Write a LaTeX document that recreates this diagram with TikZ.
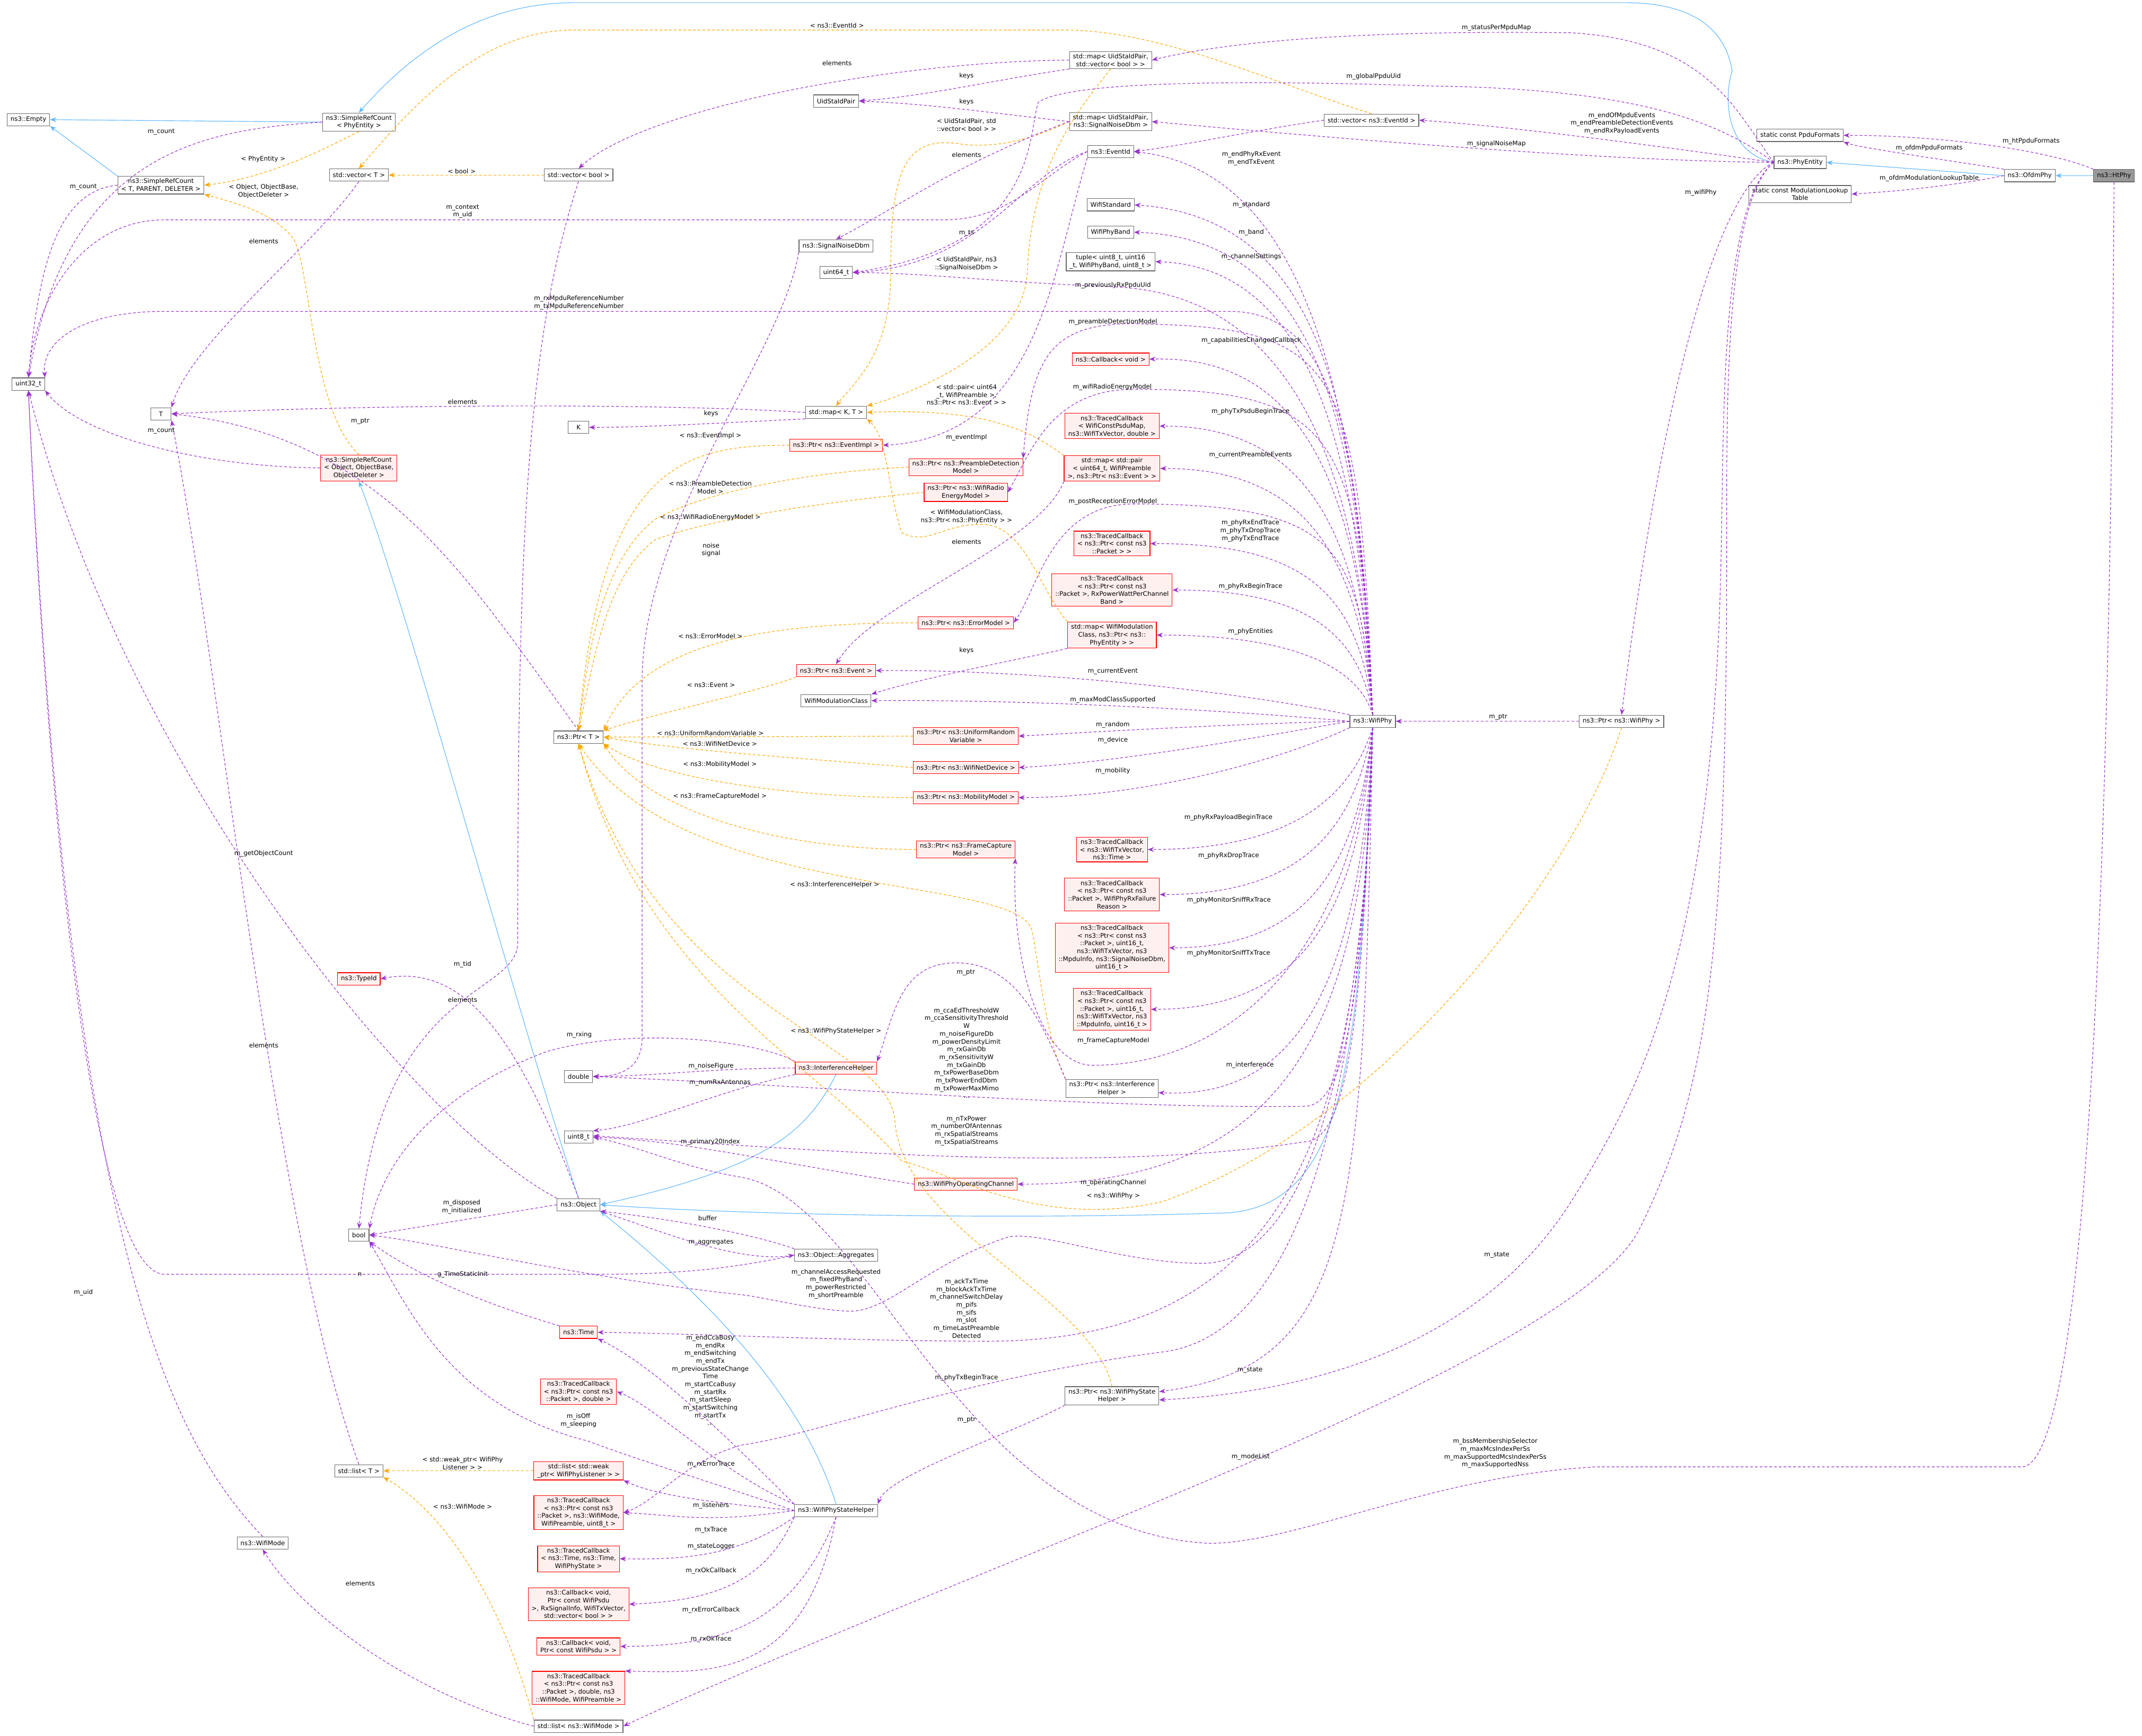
\documentclass[tikz,border=0pt]{standalone}
\usepackage{fontspec}
\setmainfont{DejaVu Sans}
\usetikzlibrary{arrows.meta}
\definecolor{cpur}{HTML}{9A32CD}
\definecolor{corg}{HTML}{FFA500}
\definecolor{cblu}{HTML}{63B8FF}
\definecolor{cred}{HTML}{FF0000}
\definecolor{credf}{HTML}{FFF0F0}
\definecolor{cgry}{HTML}{666666}
\tikzset{
 box/.style={draw=cgry,fill=white,line width=0.45pt,inner xsep=2.5pt,inner ysep=1.6pt,align=center,font=\fontsize{4.6}{5.7}\selectfont,minimum height=9pt},
 rbox/.style={box,draw=cred,fill=credf},
 gbox/.style={box,fill=black!40},
 lbl/.style={inner sep=0pt,align=center,font=\fontsize{4.6}{5.7}\selectfont},
 mem/.style={draw=cpur,line width=0.45pt,dash pattern=on 2pt off 1.5pt,-{Stealth[length=4.5pt,width=3.5pt]}},
 tpl/.style={draw=corg,line width=0.45pt,dash pattern=on 2pt off 1.5pt,-{Stealth[length=4.5pt,width=3.5pt]}},
 inh/.style={draw=cblu,line width=0.45pt,-{Stealth[length=4.5pt,width=3.5pt]}},
}
\begin{document}
\begin{tikzpicture}[x=1pt,y=1pt]
\useasboundingbox (0,0) rectangle (1568,-1271);
% ---------- nodes ----------
\node[gbox] (htphy) at (1547.5,-128.6) {ns3::HtPhy};
\node[box] (ofdm) at (1485.8,-128.6) {ns3::OfdmPhy};
\node[box] (phyentity) at (1317.7,-118.9) {ns3::PhyEntity};
\node[box] (ppdufmt) at (1317.7,-99.1) {static const PpduFormats};
\node[box] (modlut) at (1317.7,-142.1) {static const ModulationLookup\\Table};
\node[box] (wifiphy) at (1004.8,-528.1) {ns3::WifiPhy};
\node[box] (ptrwifiphy) at (1187,-528.1) {ns3::Ptr< ns3::WifiPhy >};
\node[box] (mapuidbool) at (813,-44) {std::map< UidStaIdPair,\\std::vector< bool > >};
\node[box] (uidsta) at (612,-74) {UidStaIdPair};
\node[box] (mapuidsnr) at (813,-89) {std::map< UidStaIdPair,\\ns3::SignalNoiseDbm >};
\node[box] (vecevent) at (1004,-88) {std::vector< ns3::EventId >};
\node[box] (eventid) at (813,-111) {ns3::EventId};
\node[box] (wifistd) at (813,-150) {WifiStandard};
\node[box] (wifiband) at (813,-170) {WifiPhyBand};
\node[box] (tuple) at (813,-191.6) {tuple< uint8\_t, uint16\\\_t, WifiPhyBand, uint8\_t >};
\node[box] (snr) at (612,-180) {ns3::SignalNoiseDbm};
\node[box] (uint64) at (612,-199.5) {uint64\_t};
\node[rbox] (cbvoid) at (813,-263) {ns3::Callback< void >};
\node[box] (mapKT) at (612,-302) {std::map< K, T >};
\node[rbox] (ptrEventImpl) at (612,-326) {ns3::Ptr< ns3::EventImpl >};
\node[rbox] (ptrPreamble) at (707,-342) {ns3::Ptr< ns3::PreambleDetection\\Model >};
\node[rbox] (ptrRadio) at (707,-360.5) {ns3::Ptr< ns3::WifiRadio\\EnergyModel >};
\node[rbox] (tcPsdu) at (814,-312) {ns3::TracedCallback\\< WifiConstPsduMap,\\ns3::WifiTxVector, double >};
\node[rbox] (mapPreamble) at (814,-343) {std::map< std::pair\\< uint64\_t, WifiPreamble\\>, ns3::Ptr< ns3::Event > >};
\node[rbox] (tcPacket) at (814,-398) {ns3::TracedCallback\\< ns3::Ptr< const ns3\\::Packet > >};
\node[rbox] (tcRxPower) at (814,-432) {ns3::TracedCallback\\< ns3::Ptr< const ns3\\::Packet >, RxPowerWattPerChannel\\Band >};
\node[rbox] (ptrErrorModel) at (707,-456) {ns3::Ptr< ns3::ErrorModel >};
\node[rbox] (mapModClass) at (814,-465) {std::map< WifiModulation\\Class, ns3::Ptr< ns3::\\PhyEntity > >};
\node[rbox] (ptrEvent) at (612,-491) {ns3::Ptr< ns3::Event >};
\node[box] (modclass) at (612,-513) {WifiModulationClass};
\node[rbox] (ptrRandom) at (707,-539) {ns3::Ptr< ns3::UniformRandom\\Variable >};
\node[rbox] (ptrDevice) at (707,-562) {ns3::Ptr< ns3::WifiNetDevice >};
\node[rbox] (ptrMobility) at (707,-584) {ns3::Ptr< ns3::MobilityModel >};
\node[rbox] (ptrFrameCap) at (707,-622) {ns3::Ptr< ns3::FrameCapture\\Model >};
\node[rbox] (tcTime) at (814,-622) {ns3::TracedCallback\\< ns3::WifiTxVector,\\ns3::Time >};
\node[rbox] (tcFailure) at (814,-655) {ns3::TracedCallback\\< ns3::Ptr< const ns3\\::Packet >, WifiPhyRxFailure\\Reason >};
\node[rbox] (tcSniffRx) at (814,-694) {ns3::TracedCallback\\< ns3::Ptr< const ns3\\::Packet >, uint16\_t,\\ns3::WifiTxVector, ns3\\::MpduInfo, ns3::SignalNoiseDbm,\\uint16\_t >};
\node[rbox] (tcSniffTx) at (814,-739) {ns3::TracedCallback\\< ns3::Ptr< const ns3\\::Packet >, uint16\_t,\\ns3::WifiTxVector, ns3\\::MpduInfo, uint16\_t >};
\node[rbox] (interf) at (612,-782) {ns3::InterferenceHelper};
\node[box] (ptrInterf) at (814,-797) {ns3::Ptr< ns3::Interference\\Helper >};
\node[rbox] (opchan) at (707,-867) {ns3::WifiPhyOperatingChannel};
\node[box] (aggregates) at (612,-919) {ns3::Object::Aggregates};
\node[box] (ptrState) at (814,-1022) {ns3::Ptr< ns3::WifiPhyState\\Helper >};
\node[box] (stateHelper) at (612,-1106) {ns3::WifiPhyStateHelper};
\node[box] (empty) at (20.8,-87.6) {ns3::Empty};
\node[box] (simplerefphy) at (262.7,-89.4) {ns3::SimpleRefCount\\< PhyEntity >};
\node[box] (simpleref3) at (117.8,-135.6) {ns3::SimpleRefCount\\< T, PARENT, DELETER >};
\node[box] (vecT) at (262.7,-128.2) {std::vector< T >};
\node[box] (vecbool) at (423.5,-128.2) {std::vector< bool >};
\node[box] (uint32) at (20.8,-281.2) {uint32\_t};
\node[box,minimum width=15pt] (T) at (117.8,-303) {T};
\node[box,minimum width=15pt] (K) at (423.5,-312.9) {K};
\node[rbox] (simplerefObj) at (262.7,-342.6) {ns3::SimpleRefCount\\< Object, ObjectBase,\\ObjectDeleter >};
\node[box] (ptrT) at (423.5,-539.7) {ns3::Ptr< T >};
\node[rbox] (typeid) at (262.7,-716.7) {ns3::TypeId};
\node[box] (double) at (423.5,-788.2) {double};
\node[box] (uint8) at (423.5,-832.6) {uint8\_t};
\node[box] (object) at (423.5,-882.1) {ns3::Object};
\node[box] (bool) at (262.7,-904.3) {bool};
\node[rbox] (time) at (423.5,-975.5) {ns3::Time};
\node[rbox] (tcPktDouble) at (423.5,-1018.9) {ns3::TracedCallback\\< ns3::Ptr< const ns3\\::Packet >, double >};
\node[box] (listT) at (262.7,-1076.9) {std::list< T >};
\node[rbox] (listListener) at (423.5,-1076.9) {std::list< std::weak\\\_ptr< WifiPhyListener > >};
\node[rbox] (tcMode) at (423.5,-1107.5) {ns3::TracedCallback\\< ns3::Ptr< const ns3\\::Packet >, ns3::WifiMode,\\WifiPreamble, uint8\_t >};
\node[box] (wifimode) at (192.3,-1129.7) {ns3::WifiMode};
\node[rbox] (tcState) at (423.5,-1141.3) {ns3::TracedCallback\\< ns3::Time, ns3::Time,\\WifiPhyState >};
\node[rbox] (cbRxOk) at (423.5,-1174.6) {ns3::Callback< void,\\Ptr< const WifiPsdu\\>, RxSignalInfo, WifiTxVector,\\std::vector< bool > >};
\node[rbox] (cbRxErr) at (423.5,-1205.5) {ns3::Callback< void,\\Ptr< const WifiPsdu > >};
\node[rbox] (tcRxOk) at (423.5,-1235.9) {ns3::TracedCallback\\< ns3::Ptr< const ns3\\::Packet >, double, ns3\\::WifiMode, WifiPreamble >};
\node[box] (listMode) at (423.5,-1263.9) {std::list< ns3::WifiMode >};
% ---------- inheritance ----------
\draw[inh] (htphy) -- (ofdm);
\draw[inh] (ofdm.west) -- (phyentity.east);
\draw[inh] (phyentity.west) .. controls (1262,-112) and (1262,-70) .. (1268,-52) .. controls (1262,-15) and (1230,-2) .. (1190,-2) -- (420,-2) .. controls (350,-2) and (300,-40) .. (simplerefphy.north);
\draw[inh] (simplerefphy.west) -- (empty.east);
\draw[inh] (simpleref3.north west) -- (empty.south east);
\draw[inh] (object.north) .. controls (372,-720) and (300,-450) .. (simplerefObj.south);
\draw[inh] (interf.south) .. controls (590,-830) and (560,-855) .. (object.east);
\draw[inh] (stateHelper.north) .. controls (590,-1030) and (530,-960) .. (object.south east);
\draw[inh] (wifiphy.south) .. controls (995,-760) and (990,-880) .. (900,-888) .. controls (750,-893) and (550,-890) .. (object.east);
% ---------- templates ----------
\draw[tpl] (simplerefphy.south) .. controls (245,-105) and (200,-130) .. (simpleref3.east);
\draw[tpl] (simplerefObj.north) .. controls (228,-300) and (228,-200) .. (215,-175) .. controls (200,-155) and (170,-148) .. (simpleref3.south east);
\draw[tpl] (vecbool.west) -- (vecT.east);
\draw[tpl] (vecevent.north) .. controls (930,-60) and (850,-22) .. (779,-22) -- (420,-22) .. controls (350,-22) and (300,-80) .. (vecT.north);
\draw[tpl] (mapuidbool.south) .. controls (790,-80) and (755,-120) .. (752,-200) .. controls (748,-260) and (660,-290) .. (mapKT.north east);
\draw[tpl] (mapuidsnr.west) .. controls (760,-100) and (730,-110) .. (700,-105) .. controls (660,-100) and (652,-130) .. (652,-200) .. controls (652,-260) and (625,-280) .. (mapKT.north);
\draw[tpl] (mapPreamble.north west) .. controls (760,-320) and (730,-298) .. (mapKT.east);
\draw[tpl] (mapModClass.north west) .. controls (760,-430) and (750,-385) .. (720,-384) .. controls (690,-383) and (680,-400) .. (660,-390) .. controls (650,-360) and (650,-320) .. (mapKT.south east);
\draw[tpl] (ptrEventImpl.west) .. controls (500,-326) and (440,-340) .. (ptrT.north);
\draw[tpl] (ptrPreamble.west) .. controls (600,-345) and (520,-358) .. (480,-380) .. controls (440,-410) and (430,-480) .. (ptrT.north);
\draw[tpl] (ptrRadio.west) .. controls (600,-368) and (520,-380) .. (480,-395) .. controls (445,-420) and (435,-480) .. (ptrT.north);
\draw[tpl] (ptrErrorModel.west) .. controls (560,-456) and (470,-470) .. (ptrT.north east);
\draw[tpl] (ptrEvent.south west) .. controls (560,-505) and (470,-525) .. (ptrT.north east);
\draw[tpl] (ptrRandom.west) -- (ptrT.east);
\draw[tpl] (ptrDevice.west) .. controls (600,-556) and (500,-550) .. (ptrT.east);
\draw[tpl] (ptrMobility.west) .. controls (580,-584) and (480,-570) .. (ptrT.south east);
\draw[tpl] (ptrFrameCap.west) .. controls (560,-622) and (470,-590) .. (ptrT.south east);
\draw[tpl] (ptrInterf.north west) .. controls (765,-760) and (760,-700) .. (755,-680) .. controls (740,-640) and (500,-660) .. (ptrT.south);
\draw[tpl] (ptrState.north) .. controls (800,-950) and (660,-900) .. (655,-820) .. controls (650,-760) and (480,-740) .. (ptrT.south);
\draw[tpl] (ptrwifiphy.south) .. controls (1150,-650) and (1000,-830) .. (850,-880) .. controls (760,-900) and (700,-860) .. (660,-850) .. controls (600,-780) and (470,-720) .. (ptrT.south);
\draw[tpl] (listListener.west) -- (listT.east);
\draw[tpl] (listMode.north west) .. controls (370,-1180) and (330,-1110) .. (listT.south east);
% ---------- members ----------
\draw[mem] (htphy.north west) .. controls (1500,-110) and (1420,-99) .. (ppdufmt.east);
\draw[mem] (ofdm.north west) .. controls (1430,-118) and (1360,-108) .. (ppdufmt.south east);
\draw[mem] (ofdm.west) .. controls (1430,-136) and (1390,-140) .. (modlut.east);
\draw[mem] (phyentity.west) .. controls (1270,-80) and (1250,-30) .. (1150,-24) .. controls (1000,-22) and (900,-30) .. (mapuidbool.east);
\draw[mem] (phyentity.west) .. controls (1260,-90) and (1200,-65) .. (1048,-63) .. controls (900,-58) and (780,-60) .. (760,-75) .. controls (752,-100) and (760,-180) .. (uint64.east);
\draw[mem] (phyentity.west) .. controls (1200,-105) and (1100,-92) .. (vecevent.east);
\draw[mem] (phyentity.west) .. controls (1200,-118) and (1050,-108) .. (mapuidsnr.east);
\draw[mem] (phyentity.west) .. controls (1255,-140) and (1215,-300) .. (ptrwifiphy.north);
\draw[mem] (phyentity.west) .. controls (1262,-150) and (1264,-300) .. (1264,-400) .. controls (1264,-700) and (1250,-800) .. (1200,-900) .. controls (1150,-1000) and (700,-1150) .. (listMode.east);
\draw[mem] (phyentity.west) .. controls (1260,-150) and (1262,-300) .. (1260,-400) .. controls (1255,-700) and (1200,-800) .. (1150,-880) .. controls (1080,-990) and (950,-1020) .. ([yshift=-3pt]ptrState.east);
\draw[mem] (htphy.south) .. controls (1545,-600) and (1530,-1074) .. (1480,-1074) -- (1169,-1074) .. controls (1050,-1080) and (950,-1130) .. (885,-1130) .. controls (700,-1120) and (640,-880) .. (543,-862) .. controls (500,-855) and (470,-840) .. (uint8.east);
\draw[mem] (mapuidbool.west) .. controls (650,-45) and (470,-80) .. (vecbool.north);
\draw[mem] (mapuidbool.south west) .. controls (720,-60) and (680,-70) .. (uidsta.east);
\draw[mem] (mapuidsnr.west) .. controls (720,-82) and (680,-76) .. (uidsta.east);
\draw[mem] (mapuidsnr.west) .. controls (700,-120) and (660,-150) .. (snr.north);
\draw[mem] (vecevent.west) .. controls (920,-95) and (870,-106) .. (eventid.east);
\draw[mem] (eventid.west) .. controls (750,-125) and (720,-195) .. (uint64.east);
\draw[mem] (eventid.south west) .. controls (770,-200) and (760,-320) .. (ptrEventImpl.east);
\draw[mem] (eventid.west) .. controls (760,-130) and (740,-161) .. (690,-161) -- (120,-161) .. controls (60,-161) and (25,-220) .. (uint32.north);
\draw[mem] (snr.south west) .. controls (572,-260) and (470,-380) .. (470,-500) -- (470,-760) .. controls (470,-785) and (450,-788) .. (double.east);
\draw[mem] (mapKT.west) .. controls (500,-296) and (300,-295) .. (T.east);
\draw[mem] (mapKT.south west) .. controls (520,-310) and (470,-313) .. (K.east);
\draw[mem] (vecT.south) .. controls (230,-180) and (140,-250) .. (T.north east);
\draw[mem] (listT.north) .. controls (200,-900) and (160,-480) .. (T.south east);
\draw[mem] (ptrT.north) .. controls (340,-420) and (280,-320) .. (T.east);
\draw[mem] (simpleref3.west) .. controls (40,-140) and (28,-200) .. (uint32.north);
\draw[mem] (simplerefphy.west) .. controls (150,-95) and (50,-110) .. (uint32.north);
\draw[mem] (simplerefObj.west) .. controls (150,-342) and (60,-320) .. (uint32.south east);
\draw[mem] (vecbool.south) .. controls (385,-250) and (379,-400) .. (379,-690) .. controls (379,-730) and (280,-720) .. (bool.north);
\draw[mem] (object.north west) .. controls (300,-820) and (90,-560) .. (uint32.south);
\draw[mem] (object.north) .. controls (380,-760) and (340,-705) .. (typeid.east);
\draw[mem] (object.west) -- (bool.east);
\draw[mem] (object.south east) .. controls (480,-900) and (540,-925) .. (aggregates.west);
\draw[mem] (aggregates.north west) .. controls (540,-900) and (470,-890) .. (object.south east);
\draw[mem] (aggregates.west) .. controls (540,-928) and (500,-933) .. (440,-933) -- (120,-933) .. controls (60,-930) and (30,-500) .. (uint32.south);
\draw[mem] (time.north west) .. controls (340,-950) and (300,-930) .. (bool.south east);
\draw[mem] (wifimode.north) .. controls (120,-1050) and (50,-900) .. (uint32.south);
\draw[mem] (listMode.west) .. controls (300,-1240) and (220,-1180) .. (wifimode.south);
\draw[mem] (ptrwifiphy.west) -- (wifiphy.east);
\draw[mem] (ptrInterf.north west) .. controls (760,-740) and (740,-705) .. (700,-705) .. controls (660,-705) and (655,-740) .. (interf.north east);
\draw[mem] (interf.north west) .. controls (560,-764) and (470,-750) .. (400,-770) .. controls (320,-800) and (280,-850) .. (bool.north east);
\draw[mem] (interf.west) .. controls (520,-782) and (480,-788) .. (double.east);
\draw[mem] (interf.south west) .. controls (520,-800) and (470,-825) .. (uint8.north east);
\draw[mem] (opchan.west) .. controls (560,-850) and (500,-835) .. (uint8.east);
\draw[mem] (ptrState.south west) .. controls (740,-1050) and (650,-1080) .. (stateHelper.north east);
\draw[mem] (stateHelper.north west) .. controls (540,-1060) and (480,-1000) .. (time.south east);
\draw[mem] (stateHelper.west) .. controls (520,-1085) and (470,-1070) .. (430,-1055) .. controls (330,-1030) and (300,-960) .. (bool.south east);
\draw[mem] (stateHelper.north west) .. controls (530,-1080) and (480,-1030) .. (tcPktDouble.east);
\draw[mem] (stateHelper.west) .. controls (520,-1100) and (480,-1095) .. (listListener.south east);
\draw[mem] (stateHelper.west) .. controls (520,-1115) and (500,-1110) .. (tcMode.east);
\draw[mem] (stateHelper.south west) .. controls (540,-1140) and (500,-1142) .. (tcState.east);
\draw[mem] (stateHelper.south west) .. controls (560,-1160) and (520,-1172) .. (cbRxOk.east);
\draw[mem] (stateHelper.south) .. controls (580,-1190) and (530,-1205) .. (cbRxErr.east);
\draw[mem] (stateHelper.south) .. controls (590,-1230) and (520,-1225) .. (tcRxOk.north east);
\draw[mem] (mapPreamble.south west) .. controls (760,-400) and (640,-440) .. (ptrEvent.north);
\draw[mem] (mapModClass.south west) .. controls (760,-480) and (680,-495) .. (modclass.north east);
% WifiPhy members upward
\draw[mem] (wifiphy.north) .. controls (995,-300) and (960,-125) .. (eventid.east);
\draw[mem] (wifiphy.north) .. controls (995,-300) and (970,-160) .. (wifistd.east);
\draw[mem] (wifiphy.north) .. controls (995,-320) and (970,-175) .. (wifiband.east);
\draw[mem] (wifiphy.north) .. controls (995,-330) and (960,-195) .. (tuple.east);
\draw[mem] (wifiphy.north) .. controls (995,-330) and (940,-215) .. (815,-210) .. controls (720,-206) and (680,-200) .. (uint64.east);
\draw[mem] (wifiphy.north) .. controls (995,-260) and (980,-240) .. (830,-237) .. controls (770,-237) and (755,-260) .. (ptrPreamble.north east);
\draw[mem] (wifiphy.north) .. controls (995,-330) and (980,-228) .. (900,-228) -- (120,-228) .. controls (60,-228) and (30,-250) .. (uint32.north east);
\draw[mem] (wifiphy.north) .. controls (995,-350) and (950,-260) .. (cbvoid.east);
\draw[mem] (wifiphy.north) .. controls (995,-320) and (980,-285) .. (830,-285) .. controls (770,-285) and (755,-330) .. (ptrRadio.east);
\draw[mem] (wifiphy.north) .. controls (995,-380) and (950,-312) .. (tcPsdu.east);
\draw[mem] (wifiphy.north) .. controls (995,-400) and (950,-343) .. (mapPreamble.east);
\draw[mem] (wifiphy.north) .. controls (995,-400) and (980,-369) .. (830,-369) .. controls (770,-369) and (760,-430) .. (ptrErrorModel.east);
\draw[mem] (wifiphy.north) .. controls (995,-430) and (950,-398) .. (tcPacket.east);
\draw[mem] (wifiphy.north) .. controls (995,-460) and (950,-432) .. (tcRxPower.east);
\draw[mem] (wifiphy.north) .. controls (995,-490) and (950,-465) .. (mapModClass.east);
\draw[mem] (wifiphy.north west) .. controls (900,-505) and (750,-490) .. (ptrEvent.east);
\draw[mem] (wifiphy.west) .. controls (900,-520) and (750,-512) .. (modclass.east);
\draw[mem] (wifiphy.west) .. controls (900,-530) and (800,-536) .. (ptrRandom.east);
\draw[mem] (wifiphy.west) .. controls (920,-540) and (820,-558) .. (ptrDevice.east);
\draw[mem] (wifiphy.south west) .. controls (930,-560) and (830,-584) .. (ptrMobility.east);
% WifiPhy members downward
\draw[mem] (wifiphy.south) .. controls (990,-580) and (950,-622) .. (tcTime.east);
\draw[mem] (wifiphy.south) .. controls (992,-600) and (960,-655) .. (tcFailure.east);
\draw[mem] (wifiphy.south) .. controls (994,-630) and (960,-694) .. (tcSniffRx.east);
\draw[mem] (wifiphy.south) .. controls (995,-660) and (960,-739) .. (tcSniffTx.east);
\draw[mem] (wifiphy.south) .. controls (990,-700) and (900,-780) .. (800,-780) .. controls (760,-780) and (740,-700) .. (ptrFrameCap.south east);
\draw[mem] (wifiphy.south) .. controls (996,-720) and (950,-805) .. ([yshift=-3pt]ptrInterf.east);
\draw[mem] (wifiphy.south) .. controls (998,-700) and (990,-810) .. (955,-810) .. controls (800,-812) and (600,-795) .. (double.east);
\draw[mem] (wifiphy.south) .. controls (998,-720) and (990,-836) .. (955,-836) .. controls (800,-860) and (600,-842) .. ([yshift=1pt]uint8.east);
\draw[mem] (wifiphy.south) .. controls (998,-740) and (950,-868) .. (opchan.east);
\draw[mem] (wifiphy.south) .. controls (998,-800) and (950,-925) .. (880,-925) .. controls (820,-925) and (760,-900) .. (737,-906) .. controls (680,-925) and (650,-960) .. (623,-960) .. controls (600,-960) and (560,-950) .. (543,-948) .. controls (420,-935) and (320,-910) .. (bool.east);
\draw[mem] (wifiphy.south) .. controls (998,-820) and (950,-982) .. (723,-982) .. controls (620,-982) and (500,-976) .. (time.east);
\draw[mem] (wifiphy.south) .. controls (998,-840) and (940,-980) .. (850,-990) .. controls (700,-1010) and (600,-1050) .. (543,-1058) .. controls (500,-1070) and (480,-1100) .. (tcMode.east);
\draw[mem] (wifiphy.south) .. controls (998,-900) and (990,-1000) .. ([yshift=3pt]ptrState.east);
% ---------- labels ----------
\node[lbl] (l1) at (1486.8,-103.4) {m\_htPpduFormats};
\node[lbl] (l2) at (1412.2,-108.3) {m\_ofdmPpduFormats};
\node[lbl] (l3) at (1412.2,-130.5) {m\_ofdmModulationLookupTable};
\node[lbl] (l4) at (1095.4,-20.4) {m\_statusPerMpduMap};
\node[lbl] (l5) at (1005.5,-56) {m\_globalPpduUid};
\node[lbl] (l6) at (1187.2,-90.3) {m\_endOfMpduEvents\\m\_endPreambleDetectionEvents\\m\_endRxPayloadEvents};
\node[lbl] (l7) at (1095.4,-105.5) {m\_signalNoiseMap};
\node[lbl] (l8) at (1245,-141.2) {m\_wifiPhy};
\node[lbl] (l9) at (612.7,-18.7) {< ns3::EventId >};
\node[lbl] (l10) at (612.7,-46.4) {elements};
\node[lbl] (l11) at (707.5,-55.4) {keys};
\node[lbl] (l12) at (707.5,-74.5) {keys};
\node[lbl] (l13) at (707.5,-91.5) {< UidStaIdPair, std\\::vector< bool > >};
\node[lbl] (l14) at (707.5,-113.5) {elements};
\node[lbl] (l15) at (707.5,-170.6) {m\_ts};
\node[lbl] (l16) at (707.5,-193.2) {< UidStaIdPair, ns3\\::SignalNoiseDbm >};
\node[lbl] (l17) at (916,-116) {m\_endPhyRxEvent\\m\_endTxEvent};
\node[lbl] (l18) at (916,-150) {m\_standard};
\node[lbl] (l19) at (916,-170) {m\_band};
\node[lbl] (l20) at (916,-188) {m\_channelSettings};
\node[lbl] (l21) at (814.7,-208.9) {m\_previouslyRxPpduUid};
\node[lbl] (l22) at (814.7,-235.8) {m\_preambleDetectionModel};
\node[lbl] (l23) at (916,-249.5) {m\_capabilitiesChangedCallback};
\node[lbl] (l24) at (118,-96.5) {m\_count};
\node[lbl] (l25) at (192.7,-116.6) {< PhyEntity >};
\node[lbl] (l26) at (61,-137) {m\_count};
\node[lbl] (l27) at (193,-140) {< Object, ObjectBase,\\ObjectDeleter >};
\node[lbl] (l28) at (338,-125.5) {< bool >};
\node[lbl] (l29) at (338.6,-154.7) {m\_context\\m\_uid};
\node[lbl] (l30) at (193,-176.7) {elements};
\node[lbl] (l31) at (423.8,-221.5) {m\_rxMpduReferenceNumber\\m\_txMpduReferenceNumber};
\node[lbl] (l32) at (338.6,-294.3) {elements};
\node[lbl] (l33) at (520.5,-303) {keys};
\node[lbl] (l34) at (263.7,-308.4) {m\_ptr};
\node[lbl] (l35) at (118,-315.3) {m\_count};
\node[lbl] (l36) at (520,-319.3) {< ns3::EventImpl >};
\node[lbl] (l37) at (520,-357) {< ns3::PreambleDetection\\Model >};
\node[lbl] (l38) at (520,-378.7) {< ns3::WifiRadioEnergyModel >};
\node[lbl] (l39) at (707.5,-289) {< std::pair< uint64\\\_t, WifiPreamble >,\\ns3::Ptr< ns3::Event > >};
\node[lbl] (l40) at (814.3,-283.5) {m\_wifiRadioEnergyModel};
\node[lbl] (l41) at (915.4,-301.2) {m\_phyTxPsduBeginTrace};
\node[lbl] (l42) at (707.5,-320.2) {m\_eventImpl};
\node[lbl] (l43) at (915.4,-333.2) {m\_currentPreambleEvents};
\node[lbl] (l44) at (814.6,-367.3) {m\_postReceptionErrorModel};
\node[lbl] (l45) at (707.5,-378.4) {< WifiModulationClass,\\ns3::Ptr< ns3::PhyEntity > >};
\node[lbl] (l46) at (707.5,-396.8) {elements};
\node[lbl] (l47) at (915.4,-388.6) {m\_phyRxEndTrace\\m\_phyTxDropTrace\\m\_phyTxEndTrace};
\node[lbl] (l48) at (915.4,-429.5) {m\_phyRxBeginTrace};
\node[lbl] (l49) at (915.4,-462.3) {m\_phyEntities};
\node[lbl] (l50) at (707.5,-476.5) {keys};
\node[lbl] (l51) at (814.6,-491.7) {m\_currentEvent};
\node[lbl] (l52) at (814.6,-512.5) {m\_maxModClassSupported};
\node[lbl] (l53) at (814.6,-530.9) {m\_random};
\node[lbl] (l54) at (814.6,-542) {m\_device};
\node[lbl] (l55) at (814.6,-564.5) {m\_mobility};
\node[lbl] (l56) at (520.5,-402.6) {noise\\signal};
\node[lbl] (l57) at (520,-465.7) {< ns3::ErrorModel >};
\node[lbl] (l58) at (520.5,-501.5) {< ns3::Event >};
\node[lbl] (l59) at (520,-536.8) {< ns3::UniformRandomVariable >};
\node[lbl] (l60) at (527,-544.5) {< ns3::WifiNetDevice >};
\node[lbl] (l61) at (527,-559.6) {< ns3::MobilityModel >};
\node[lbl] (l62) at (527,-583) {< ns3::FrameCaptureModel >};
\node[lbl] (l63) at (899.2,-598.6) {m\_phyRxPayloadBeginTrace};
\node[lbl] (l64) at (899.4,-626.7) {m\_phyRxDropTrace};
\node[lbl] (l65) at (899.6,-659.3) {m\_phyMonitorSniffRxTrace};
\node[lbl] (l66) at (899.4,-698.1) {m\_phyMonitorSniffTxTrace};
\node[lbl] (l67) at (1096.7,-525.2) {m\_ptr};
\node[lbl] (l68) at (193,-624.9) {m\_getObjectCount};
\node[lbl] (l69) at (611,-648) {< ns3::InterferenceHelper >};
\node[lbl] (l70) at (338.6,-706.1) {m\_tid};
\node[lbl] (l71) at (338.6,-732.1) {elements};
\node[lbl] (l72) at (707,-712) {m\_ptr};
\node[lbl] (l73) at (424,-757.9) {m\_rxing};
\node[lbl] (l74) at (193,-765.3) {elements};
\node[lbl] (l75) at (612,-755) {< ns3::WifiPhyStateHelper >};
\node[lbl] (l76) at (707.5,-771) {m\_ccaEdThresholdW\\m\_ccaSensitivityThreshold\\W\\m\_noiseFigureDb\\m\_powerDensityLimit\\m\_rxGainDb\\m\_rxSensitivityW\\m\_txGainDb\\m\_txPowerBaseDbm\\m\_txPowerEndDbm\\m\_txPowerMaxMimo\\...};
\node[lbl] (l77) at (815,-762) {m\_frameCaptureModel};
\node[lbl] (l78) at (915,-780) {m\_interference};
\node[lbl] (l79) at (520.5,-780.8) {m\_noiseFigure};
\node[lbl] (l80) at (527,-792.7) {m\_numRxAntennas};
\node[lbl] (l81) at (707.5,-828) {m\_nTxPower\\m\_numberOfAntennas\\m\_rxSpatialStreams\\m\_txSpatialStreams};
\node[lbl] (l82) at (520,-836.2) {m\_primary20Index};
\node[lbl] (l83) at (815,-866) {m\_operatingChannel};
\node[lbl] (l84) at (815,-875.5) {< ns3::WifiPhy >};
\node[lbl] (l85) at (338,-883.7) {m\_disposed\\m\_initialized};
\node[lbl] (l86) at (518,-892) {buffer};
\node[lbl] (l87) at (520.5,-909.8) {m\_aggregates};
\node[lbl] (l88) at (612,-940) {m\_channelAccessRequested\\m\_fixedPhyBand\\m\_powerRestricted\\m\_shortPreamble};
\node[lbl] (l89) at (707.5,-958) {m\_ackTxTime\\m\_blockAckTxTime\\m\_channelSwitchDelay\\m\_pifs\\m\_sifs\\m\_slot\\m\_timeLastPreamble\\Detected};
\node[lbl] (l90) at (263.4,-933.2) {n};
\node[lbl] (l91) at (338.6,-933.2) {g\_TimeStaticInit};
\node[lbl] (l92) at (61,-946.3) {m\_uid};
\node[lbl] (l93) at (915,-1003) {m\_state};
\node[lbl] (l94) at (707.5,-1009) {m\_phyTxBeginTrace};
\node[lbl] (l95) at (1095.7,-918.8) {m\_state};
\node[lbl] (l96) at (520,-1010.5) {m\_endCcaBusy\\m\_endRx\\m\_endSwitching\\m\_endTx\\m\_previousStateChange\\Time\\m\_startCcaBusy\\m\_startRx\\m\_startSleep\\m\_startSwitching\\m\_startTx\\...};
\node[lbl] (l97) at (423.5,-1040) {m\_isOff\\m\_sleeping};
\node[lbl] (l98) at (707.5,-1039.7) {m\_ptr};
\node[lbl] (l99) at (1094.6,-1064.1) {m\_bssMembershipSelector\\m\_maxMcsIndexPerSs\\m\_maxSupportedMcsIndexPerSs\\m\_maxSupportedNss};
\node[lbl] (l100) at (915.5,-1066.7) {m\_modeList};
\node[lbl] (l101) at (520.5,-1072.3) {m\_rxErrorTrace};
\node[lbl] (l102) at (338.6,-1071.3) {< std::weak\_ptr< WifiPhy\\Listener > >};
\node[lbl] (l103) at (520.5,-1102.4) {m\_listeners};
\node[lbl] (l104) at (338.6,-1103.1) {< ns3::WifiMode >};
\node[lbl] (l105) at (520.5,-1120.4) {m\_txTrace};
\node[lbl] (l106) at (520.5,-1132.2) {m\_stateLogger};
\node[lbl] (l107) at (520.5,-1150.1) {m\_rxOkCallback};
\node[lbl] (l108) at (263.7,-1159.3) {elements};
\node[lbl] (l109) at (520.5,-1178.8) {m\_rxErrorCallback};
\node[lbl] (l110) at (520.5,-1200.1) {m\_rxOkTrace};
\end{tikzpicture}
\end{document}
